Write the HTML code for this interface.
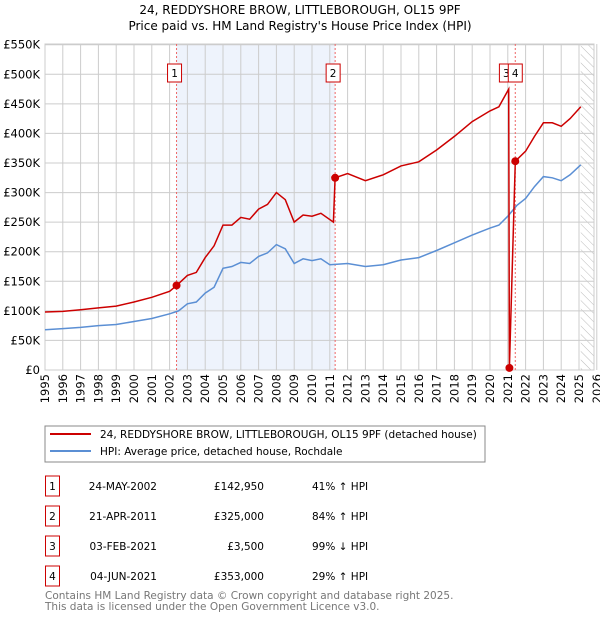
<!DOCTYPE html>
<html><head><meta charset="utf-8"><style>
body{margin:0;background:#fff;font-family:"DejaVu Sans","Liberation Sans",sans-serif;}
svg text{font-family:"DejaVu Sans","Liberation Sans",sans-serif;}
</style></head><body>
<svg id="c" width="600" height="620" xmlns="http://www.w3.org/2000/svg">
<defs><pattern id="h" width="6" height="6" patternUnits="userSpaceOnUse" patternTransform="rotate(-45)"><line x1="0" y1="0" x2="0" y2="6" stroke="#bbb" stroke-width="1"/></pattern></defs>
<text x="300" y="14" text-anchor="middle" font-size="12">24, REDDYSHORE BROW, LITTLEBOROUGH, OL15 9PF</text>
<text x="300" y="30" text-anchor="middle" font-size="12">Price paid vs. HM Land Registry's House Price Index (HPI)</text>
<g id="plot"></g>
<rect x="45" y="426" width="440" height="36" fill="#fff" stroke="#888"/>
<line x1="50" y1="434" x2="91" y2="434" stroke="#cc0000" stroke-width="2"/>
<text x="100" y="438" font-size="10.5">24, REDDYSHORE BROW, LITTLEBOROUGH, OL15 9PF (detached house)</text>
<line x1="50" y1="451" x2="91" y2="451" stroke="#5b8fd4" stroke-width="2"/>
<text x="100" y="455" font-size="10.5">HPI: Average price, detached house, Rochdale</text>
<g id="tbl" font-size="10.5"></g>
<text x="45" y="599" font-size="10.5" fill="#777">Contains HM Land Registry data © Crown copyright and database right 2025.</text>
<text x="45" y="610" font-size="10.5" fill="#777">This data is licensed under the Open Government Licence v3.0.</text>
</svg>
<script>
const hpiYears=[1995,1996,1997,1998,1999,2000,2001,2002,2002.5,2003,2003.5,2004,2004.5,2005,2005.5,2006,2006.5,2007,2007.5,2008,2008.5,2009,2009.5,2010,2010.5,2011,2012,2013,2014,2015,2016,2017,2018,2019,2020,2020.5,2021,2021.5,2022,2022.5,2023,2023.5,2024,2024.5,2025.1];
const hpiValues=[68,70,72,75,77,82,87,95,100,112,115,130,140,172,175,182,180,192,198,212,205,180,188,185,188,178,180,175,178,186,190,202,215,228,240,245,260,278,290,310,327,325,320,330,347];
const priceYears=[1995,1996,1997,1998,1999,2000,2001,2002,2002.4,2003,2003.5,2004,2004.5,2005,2005.5,2006,2006.5,2007,2007.5,2008,2008.5,2009,2009.5,2010,2010.5,2011.2,2011.3,2012,2013,2014,2015,2016,2017,2018,2019,2020,2020.5,2021.05,2021.09,2021.42,2022,2022.5,2023,2023.5,2024,2024.5,2025.1];
const priceValues=[98,99,102,105,108,115,123,133,143,160,165,190,210,245,245,258,255,272,280,300,288,250,262,260,265,250,325,332,320,330,345,352,372,395,420,438,445,475,3.5,353,370,395,418,418,412,425,445];
const saleLabels=["1","2","3","4"];
const saleDates=[2002.39,2011.3,2021.09,2021.42];
const saleValues=[142.95,325,3.5,353];
const saleDateText=["24-MAY-2002","21-APR-2011","03-FEB-2021","04-JUN-2021"];
const salePriceText=["£142,950","£325,000","£3,500","£353,000"];
const saleHpiText=["41% ↑ HPI","84% ↑ HPI","99% ↓ HPI","29% ↑ HPI"];
const yTicks=[0,50,100,150,200,250,300,350,400,450,500,550];
const xTicks=[1995,1996,1997,1998,1999,2000,2001,2002,2003,2004,2005,2006,2007,2008,2009,2010,2011,2012,2013,2014,2015,2016,2017,2018,2019,2020,2021,2022,2023,2024,2025,2026];
const NS="http://www.w3.org/2000/svg";
const X=y=>45+(y-1995)*17.8, Y=v=>370-v*(325.3/550);
const g=document.getElementById('plot');
function mk(t,a,p){const e=document.createElementNS(NS,t);for(const k in a)e.setAttribute(k,a[k]);(p||g).appendChild(e);return e;}
let e=mk('rect',{x:X(2002.39),y:44,width:X(2011.3)-X(2002.39),height:326,fill:'#eef3fc'});


e=mk('rect',{x:X(2025.1),y:44,width:594-X(2025.1),height:326,fill:'url(#h)'});


yTicks.forEach(v=>{let l=mk('line',{x1:45,x2:594,y1:Y(v),y2:Y(v),stroke:'#ccc'});


let t=mk('text',{x:40,y:Y(v)+4,'text-anchor':'end','font-size':'11.5'});t.textContent='£'+(v?v+'K':'0');

});
xTicks.forEach(v=>{let l=mk('line',{x1:X(v),x2:X(v),y1:44,y2:370,stroke:'#ccc'});


let t=mk('text',{transform:`translate(${X(v)+4},374) rotate(-90)`,'text-anchor':'end','font-size':'11.5'});t.textContent=v;

});
mk('rect',{x:45,y:44,width:549,height:326,fill:'none',stroke:'#ccc'});
[0,1,3].forEach(i=>{let l=mk('line',{x1:X(saleDates[i]),x2:X(saleDates[i]),y1:44,y2:370,stroke:'#e66','stroke-dasharray':'2,2'});

});
function path(xs,vs,c,n){let d=xs.map((x,i)=>(i?'L':'M')+X(x).toFixed(1)+','+Y(vs[i]).toFixed(1)).join('');let p=mk('path',{d:d,fill:'none',stroke:c,'stroke-width':1.5});

}
path(hpiYears,hpiValues,'#5b8fd4','hpi-line');
path(priceYears,priceValues,'#cc0000','price-line');
saleDates.forEach((d,i)=>{let c=mk('circle',{cx:X(d),cy:Y(saleValues[i]),r:4,fill:'#cc0000'});


let bx=X(d)-(i==2?8:7)+(i==3?2:0);
let r=mk('rect',{x:bx-2,y:64,width:14,height:18,fill:'#fff',stroke:'#cc0000'});


let t=mk('text',{x:bx+5,y:77,'text-anchor':'middle','font-size':'10.5'});t.textContent=saleLabels[i];

});
const tb=document.getElementById('tbl');
saleLabels.forEach((s,i)=>{const y=483+i*30;
let r=mk('rect',{x:45.5,y:y-7,width:14,height:20,fill:'#fff',stroke:'#cc0000'},tb);


let t=mk('text',{x:52.5,y:y+7,'text-anchor':'middle'},tb);t.textContent=s;


t=mk('text',{x:157,y:y+7,'text-anchor':'end'},tb);t.textContent=saleDateText[i];


t=mk('text',{x:264,y:y+7,'text-anchor':'end'},tb);t.textContent=salePriceText[i];


t=mk('text',{x:312,y:y+7},tb);t.textContent=saleHpiText[i];

});
</script>
</body></html>
